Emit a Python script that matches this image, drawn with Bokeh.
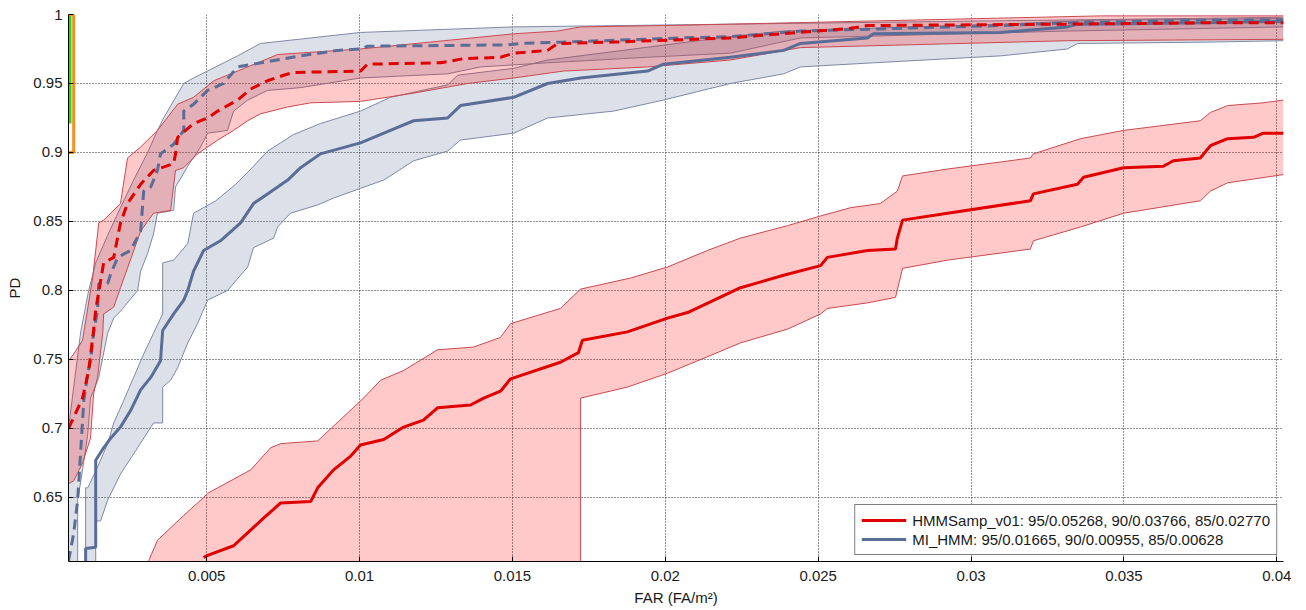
import numpy as np
from bokeh.plotting import figure
from bokeh.models import Range1d, Legend, LegendItem, FixedTicker
from bokeh.embed import file_html
from bokeh.resources import INLINE

# ---------------- data ----------------
x_ticks = [0.005, 0.01, 0.015, 0.02, 0.025, 0.03, 0.035, 0.04]
x_tick_labels = ["0.005", "0.01", "0.015", "0.02", "0.025", "0.03", "0.035", "0.04"]
y_ticks = [0.65, 0.7, 0.75, 0.8, 0.85, 0.9, 0.95, 1.0]
y_tick_labels = ["0.65", "0.7", "0.75", "0.8", "0.85", "0.9", "0.95", "1"]

legend_labels = ["HMMSamp_v01: 95/0.05268, 90/0.03766, 85/0.02770",
                 "MI_HMM: 95/0.01665, 90/0.00955, 85/0.00628"]

# HMMSamp_v01 (red, solid)
hs_x = [0.00490, 0.00503, 0.00588, 0.00686, 0.00742, 0.00840, 0.00863, 0.00915, 0.00971, 0.01003,
        0.01079, 0.01144, 0.01209, 0.01255, 0.01363, 0.01406, 0.01461, 0.01494, 0.01657, 0.01716,
        0.01729, 0.01876, 0.02007, 0.02073, 0.02246, 0.02387, 0.02508, 0.02530, 0.02661, 0.02753,
        0.02759, 0.02776, 0.02923, 0.03194, 0.03204, 0.03348, 0.03368, 0.03499, 0.03629, 0.03662,
        0.03750, 0.03783, 0.03839, 0.03924, 0.03956, 0.04022]
hs_y = [0.6065, 0.608, 0.615, 0.635, 0.646, 0.647, 0.657, 0.670, 0.680, 0.688,
        0.692, 0.701, 0.706, 0.715, 0.717, 0.722, 0.727, 0.736, 0.748, 0.755,
        0.764, 0.770, 0.780, 0.784, 0.802, 0.811, 0.818, 0.824, 0.829, 0.830,
        0.838, 0.851, 0.856, 0.865, 0.870, 0.877, 0.882, 0.889, 0.890, 0.894,
        0.896, 0.905, 0.910, 0.911, 0.914, 0.914]
hs_up_x = [0.00310, 0.00339, 0.00382, 0.00425, 0.00490, 0.00503, 0.00644, 0.00709, 0.00742, 0.00863,
           0.01013, 0.01069, 0.01144, 0.01255, 0.01373, 0.01461, 0.01494, 0.01657, 0.01723, 0.01886,
           0.02007, 0.02138, 0.02246, 0.02400, 0.02508, 0.02606, 0.02703, 0.02759, 0.02776, 0.02923,
           0.03194, 0.03204, 0.03358, 0.03499, 0.03750, 0.03783, 0.03839, 0.03956, 0.04022]
hs_up_y = [0.604, 0.619, 0.628, 0.637, 0.650, 0.653, 0.670, 0.686, 0.689, 0.691,
           0.722, 0.735, 0.742, 0.757, 0.759, 0.766, 0.776, 0.787, 0.801, 0.809,
           0.817, 0.829, 0.838, 0.847, 0.854, 0.860, 0.863, 0.872, 0.883, 0.888,
           0.896, 0.899, 0.910, 0.916, 0.923, 0.929, 0.934, 0.936, 0.938]
hs_lo_x = [0.00310, 0.01723, 0.01723, 0.01876, 0.02007, 0.02138, 0.02246, 0.02400, 0.02508, 0.02530,
           0.02661, 0.02753, 0.02776, 0.02923, 0.03194, 0.03204, 0.03358, 0.03499, 0.03750, 0.03783,
           0.03839, 0.04022]
hs_lo_y = [0.550, 0.550, 0.722, 0.730, 0.740, 0.752, 0.762, 0.772, 0.783, 0.787,
           0.791, 0.795, 0.816, 0.822, 0.830, 0.836, 0.846, 0.856, 0.865, 0.872,
           0.878, 0.884]

# MI_HMM (blue, solid)
mi_x = [0.00104, 0.00104, 0.00137, 0.00137, 0.00163, 0.00186, 0.00218, 0.00251, 0.00284, 0.00317,
        0.00349, 0.00356, 0.00392, 0.00425, 0.00438, 0.00457, 0.00490, 0.00545, 0.00611, 0.00653,
        0.00699, 0.00765, 0.00807, 0.00872, 0.01003, 0.01101, 0.01177, 0.01288, 0.01330, 0.01504,
        0.01615, 0.01723, 0.01942, 0.01994, 0.02213, 0.02387, 0.02442, 0.02661, 0.02681, 0.03096,
        0.03315, 0.03348, 0.03773, 0.04022]
mi_y = [0.600, 0.613, 0.614, 0.677, 0.686, 0.693, 0.701, 0.713, 0.728, 0.737,
        0.749, 0.771, 0.783, 0.793, 0.800, 0.814, 0.829, 0.836, 0.849, 0.863,
        0.870, 0.880, 0.889, 0.899, 0.907, 0.916, 0.923, 0.925, 0.934, 0.940,
        0.950, 0.954, 0.959, 0.964, 0.969, 0.974, 0.979, 0.983, 0.986, 0.987,
        0.991, 0.993, 0.994, 0.995]
mi_up_x = [0.00104, 0.00104, 0.00111, 0.00143, 0.00176, 0.00196, 0.00228, 0.00261, 0.00294, 0.00326,
           0.00356, 0.00356, 0.00392, 0.00438, 0.00457, 0.00530, 0.00595, 0.00653, 0.00699, 0.00742,
           0.00784, 0.00872, 0.01003, 0.01101, 0.01288, 0.01321, 0.01504, 0.01615, 0.02213, 0.02387,
           0.03096, 0.03423, 0.04022]
mi_up_y = [0.550, 0.657, 0.657, 0.672, 0.689, 0.704, 0.720, 0.737, 0.754, 0.769,
           0.783, 0.820, 0.822, 0.834, 0.856, 0.865, 0.877, 0.890, 0.901, 0.907,
           0.913, 0.921, 0.930, 0.940, 0.949, 0.956, 0.961, 0.967, 0.984, 0.988,
           0.993, 0.996, 0.997]
mi_lo_x = [0.00137, 0.00137, 0.00153, 0.00176, 0.00218, 0.00274, 0.00326, 0.00356, 0.00356, 0.00382,
           0.00405, 0.00438, 0.00470, 0.00503, 0.00568, 0.00634, 0.00653, 0.00719, 0.00732, 0.00774,
           0.00863, 0.00915, 0.01003, 0.01079, 0.01177, 0.01288, 0.01330, 0.01504, 0.01615, 0.01831,
           0.01994, 0.02213, 0.02387, 0.02442, 0.02681, 0.03096, 0.03315, 0.03348, 0.03773, 0.04022]
mi_lo_y = [0.550, 0.633, 0.633, 0.648, 0.667, 0.686, 0.704, 0.704, 0.730, 0.735,
           0.744, 0.762, 0.776, 0.793, 0.800, 0.817, 0.831, 0.838, 0.846, 0.856,
           0.862, 0.867, 0.874, 0.880, 0.894, 0.901, 0.909, 0.914, 0.925, 0.930,
           0.938, 0.950, 0.957, 0.962, 0.965, 0.970, 0.975, 0.979, 0.980, 0.981]

# HMMSamp_v01 second run (red, dashed)
hd_x = [0.00048, 0.00071, 0.00094, 0.00114, 0.00130, 0.00137, 0.00163, 0.00196, 0.00218, 0.00241,
        0.00284, 0.00326, 0.00392, 0.00398, 0.00405, 0.00457, 0.00503, 0.00536, 0.00601, 0.00644,
        0.00699, 0.00752, 0.00784, 0.01003, 0.01026, 0.01265, 0.01340, 0.01461, 0.01504, 0.01615,
        0.01648, 0.01831, 0.02213, 0.02606, 0.02661, 0.03315, 0.03773, 0.04022]
hd_y = [0.700, 0.711, 0.722, 0.742, 0.771, 0.786, 0.820, 0.824, 0.849, 0.863,
        0.877, 0.887, 0.892, 0.899, 0.911, 0.921, 0.925, 0.930, 0.938, 0.946,
        0.952, 0.956, 0.958, 0.959, 0.964, 0.965, 0.968, 0.969, 0.972, 0.974,
        0.979, 0.980, 0.983, 0.990, 0.992, 0.993, 0.994, 0.994]
hd_up_x = [0.00048, 0.00065, 0.00094, 0.00127, 0.00147, 0.00163, 0.00186, 0.00218, 0.00241, 0.00284,
           0.00339, 0.00405, 0.00457, 0.00523, 0.00634, 0.00732, 0.01003, 0.01504, 0.01648, 0.01723,
           0.01994, 0.02213, 0.03423, 0.04022]
hd_up_y = [0.749, 0.754, 0.764, 0.809, 0.849, 0.851, 0.856, 0.863, 0.896, 0.904,
           0.916, 0.935, 0.940, 0.952, 0.962, 0.971, 0.975, 0.986, 0.988, 0.991,
           0.992, 0.993, 0.999, 0.999]
hd_lo_x = [0.00048, 0.00065, 0.00094, 0.00120, 0.00130, 0.00143, 0.00160, 0.00163, 0.00196, 0.00218,
           0.00284, 0.00326, 0.00382, 0.00398, 0.00425, 0.00470, 0.00536, 0.00588, 0.00634, 0.00676,
           0.00765, 0.00840, 0.01003, 0.01177, 0.01353, 0.01504, 0.01667, 0.01942, 0.02213, 0.02442,
           0.03315, 0.04022]
hd_lo_y = [0.660, 0.662, 0.675, 0.693, 0.725, 0.737, 0.769, 0.783, 0.788, 0.802,
           0.843, 0.856, 0.858, 0.887, 0.889, 0.899, 0.909, 0.916, 0.923, 0.928,
           0.933, 0.936, 0.937, 0.943, 0.950, 0.954, 0.959, 0.962, 0.967, 0.976,
           0.981, 0.982]

# MI_HMM second run (blue, dashed)
md_x = [0.00048, 0.00065, 0.00078, 0.00088, 0.00098, 0.00111, 0.00120, 0.00130, 0.00143, 0.00147,
        0.00176, 0.00186, 0.00209, 0.00251, 0.00284, 0.00294, 0.00317, 0.00339, 0.00349, 0.00392,
        0.00425, 0.00425, 0.00457, 0.00503, 0.00555, 0.00601, 0.00653, 0.00807, 0.00928, 0.01003,
        0.01026, 0.01484, 0.01527, 0.01667, 0.02050, 0.02213, 0.02442, 0.03096, 0.03315, 0.03773,
        0.04022]
md_y = [0.604, 0.624, 0.648, 0.684, 0.720, 0.740, 0.749, 0.769, 0.786, 0.805,
        0.805, 0.812, 0.824, 0.829, 0.843, 0.872, 0.875, 0.887, 0.899, 0.906,
        0.916, 0.930, 0.935, 0.945, 0.950, 0.962, 0.964, 0.970, 0.974, 0.975,
        0.977, 0.978, 0.979, 0.980, 0.983, 0.984, 0.988, 0.992, 0.994, 0.996,
        0.996]
md_up_x = [0.00048, 0.00065, 0.00088, 0.00114, 0.00137, 0.00176, 0.00218, 0.00261, 0.00307, 0.00339,
           0.00359, 0.00425, 0.00457, 0.00601, 0.00676, 0.00840, 0.01003, 0.01504, 0.02213, 0.04022]
md_up_y = [0.700, 0.730, 0.770, 0.800, 0.820, 0.840, 0.860, 0.880, 0.900, 0.916,
           0.925, 0.950, 0.954, 0.970, 0.979, 0.983, 0.987, 0.991, 0.993, 0.998]
md_lo_x = [0.00048, 0.00078, 0.00078, 0.00094, 0.00111, 0.00120, 0.00147, 0.00176, 0.00196, 0.00218,
           0.00274, 0.00284, 0.00307, 0.00326, 0.00339, 0.00392, 0.00398, 0.00438, 0.00480, 0.00503,
           0.00568, 0.00588, 0.00634, 0.00699, 0.00807, 0.01003, 0.01288, 0.01396, 0.01615, 0.01942,
           0.02213, 0.02442, 0.03315, 0.04022]
md_lo_y = [0.550, 0.550, 0.648, 0.670, 0.696, 0.722, 0.737, 0.769, 0.780, 0.785,
           0.800, 0.814, 0.827, 0.841, 0.856, 0.858, 0.875, 0.890, 0.904, 0.914,
           0.916, 0.930, 0.938, 0.945, 0.947, 0.954, 0.957, 0.962, 0.965, 0.969,
           0.972, 0.983, 0.988, 0.991]

# PD markers at the left edge
green_mark_x = [0.00053, 0.00053]
green_mark_y = [0.921, 1.0]
orange_mark_x = [0.00049, 0.00065, 0.00065, 0.00049]
orange_mark_y = [0.9, 0.9, 1.0, 1.0]

# ---------------- styling ----------------
RED = "#e10000"
BLUE = "#5a6d96"
RED_FILL = "#ff0000"
BLUE_FILL = "#5a6e96"
RED_EDGE = "#c84a50"
BLUE_EDGE = "#7d89a3"
FONT = "Liberation Sans"
FS = "15px"

p = figure(width=1300, height=610,
           x_range=Range1d(0.00048, 0.04022), y_range=Range1d(0.6036, 1.0),
           output_backend="svg", toolbar_location=None,
           min_border_left=68, min_border_right=17, min_border_top=14, min_border_bottom=49)
p.outline_line_color = None
p.background_fill_color = "white"
p.border_fill_color = "white"


def band(ux, uy, lx, ly, fill, edge):
    px = list(ux) + list(lx)[::-1]
    py = list(uy) + list(ly)[::-1]
    p.patch(px, py, fill_color=fill, fill_alpha=0.21, line_color=None)
    p.line(ux, uy, line_color=edge, line_width=1)
    p.line(lx, ly, line_color=edge, line_width=1)


band(hs_up_x, hs_up_y, hs_lo_x, hs_lo_y, RED_FILL, RED_EDGE)
band(mi_up_x, mi_up_y, mi_lo_x, mi_lo_y, BLUE_FILL, BLUE_EDGE)
band(md_up_x, md_up_y, md_lo_x, md_lo_y, BLUE_FILL, BLUE_EDGE)
band(hd_up_x, hd_up_y, hd_lo_x, hd_lo_y, RED_FILL, RED_EDGE)

r_mi = p.line(mi_x, mi_y, line_color=BLUE, line_width=3)
r_hs = p.line(hs_x, hs_y, line_color=RED, line_width=3)
p.line(md_x, md_y, line_color=BLUE, line_width=3, line_dash="10 6")
p.line(hd_x, hd_y, line_color=RED, line_width=3, line_dash="10 6")

p.line(green_mark_x, green_mark_y, line_color="#22dd22", line_width=3)
p.line(orange_mark_x, orange_mark_y, line_color="#f5901e", line_width=3)

# axes
p.xaxis.ticker = FixedTicker(ticks=x_ticks)
p.yaxis.ticker = FixedTicker(ticks=y_ticks)
p.xaxis.major_label_overrides = dict(zip(x_ticks, x_tick_labels))
p.yaxis.major_label_overrides = dict(zip(y_ticks, y_tick_labels))
for ax in (p.xaxis[0], p.yaxis[0]):
    ax.major_tick_in = 5
    ax.major_tick_out = 0
    ax.minor_tick_in = 0
    ax.minor_tick_out = 0
    ax.axis_line_color = "black"
    ax.major_tick_line_color = "black"
    ax.major_label_text_font = FONT
    ax.major_label_text_font_size = FS
    ax.major_label_text_color = "#1a1a1a"
    ax.axis_label_text_font = FONT
    ax.axis_label_text_font_size = FS
    ax.axis_label_text_font_style = "normal"
    ax.axis_label_text_color = "#1a1a1a"
p.xaxis.axis_label = "FAR (FA/m²)"
p.yaxis.axis_label = "PD"
p.xaxis.major_label_standoff = 9
p.xaxis.axis_label_standoff = 5
p.yaxis.major_label_standoff = 6
p.yaxis.axis_label_standoff = 7

for g in (p.xgrid[0], p.ygrid[0]):
    g.grid_line_color = "black"
    g.grid_line_alpha = 0.85
    g.grid_line_dash = "1 2"
    g.grid_line_width = 1

legend = Legend(items=[LegendItem(label=legend_labels[0], renderers=[r_hs]),
                       LegendItem(label=legend_labels[1], renderers=[r_mi])],
                location="bottom_right")
legend.label_text_font = FONT
legend.label_text_font_size = FS
legend.label_text_color = "#1a1a1a"
legend.glyph_width = 45
legend.glyph_height = 18
legend.label_height = 18
legend.label_standoff = 6
legend.padding = 6
legend.spacing = 1
legend.margin = 6
legend.border_line_color = "black"
legend.border_line_width = 1
legend.background_fill_alpha = 1.0
p.add_layout(legend)

open("out.html", "w").write(file_html(p, INLINE))
